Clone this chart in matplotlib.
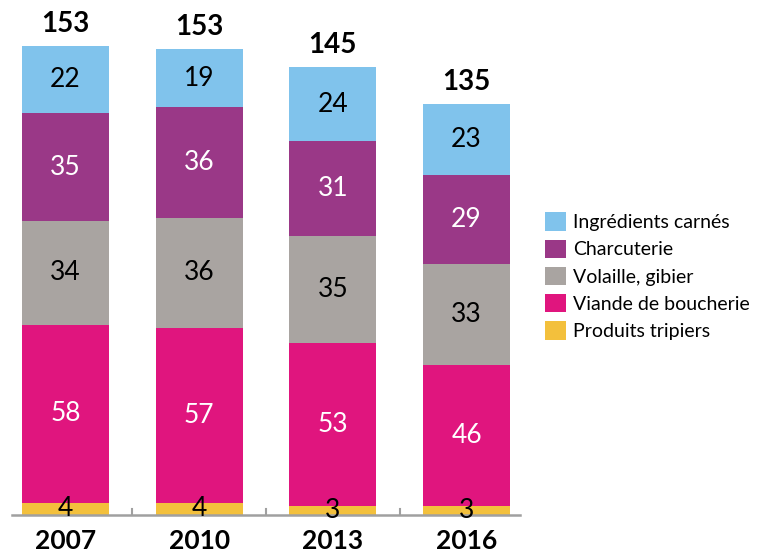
import numpy as np
import matplotlib.pyplot as plt
from matplotlib.patches import Patch

years = ['2007', '2010', '2013', '2016']
totals = [153, 153, 145, 135]

# stacked from bottom to top
categories = ['Produits tripiers', 'Viande de boucherie', 'Volaille, gibier',
              'Charcuterie', 'Ingrédients carnés']
produits_tripiers = [4, 4, 3, 3]
viande_boucherie = [58, 57, 53, 46]
volaille_gibier = [34, 36, 35, 33]
charcuterie = [35, 36, 31, 29]
ingredients_carnes = [22, 19, 24, 23]
series = [produits_tripiers, viande_boucherie, volaille_gibier, charcuterie, ingredients_carnes]
colors = ['#F3C03C', '#E0157E', '#A9A4A1', '#9A3887', '#80C3EC']
text_colors = ['black', 'white', 'black', 'white', 'black']

plt.rcParams['font.family'] = ['Lato', 'DejaVu Sans']

fig = plt.figure(figsize=(7.6, 5.56), dpi=100)
ax = fig.add_axes([12 / 760, 41 / 556, 508 / 760, 515 / 556])

x = np.arange(len(years))
bottom = np.zeros(len(years))
for vals, col, tc in zip(series, colors, text_colors):
    vals = np.array(vals, dtype=float)
    ax.bar(x, vals, width=0.65, bottom=bottom, color=col, linewidth=0)
    for xi, b, v in zip(x, bottom, vals):
        ax.text(xi, b + v / 2, f'{int(v)}', ha='center', va='center',
                fontsize=19, color=tc)
    bottom += vals

for xi, top, t in zip(x, bottom, totals):
    ax.text(xi, top + 3, str(t), ha='center', va='bottom', fontsize=20,
            fontweight='bold', color='black')

ax.set_xlim(-0.40, 3.40)
ax.set_ylim(0, 168)
ax.set_yticks([])
ax.set_xticks(x)
ax.set_xticklabels(years, fontsize=19, fontweight='bold')
ax.tick_params(axis='x', length=0, pad=10)
for tx in [0.5, 1.5, 2.5]:
    ax.plot([tx, tx], [0, 2], color='#A0A0A0', lw=1.5, clip_on=False)
for s in ['top', 'right', 'left']:
    ax.spines[s].set_visible(False)
ax.spines['bottom'].set_color('#A0A0A0')
ax.spines['bottom'].set_linewidth(1.8)

handles = [Patch(facecolor=c, edgecolor='none', label=l)
           for c, l in zip(colors[::-1], categories[::-1])]
fig.legend(handles=handles, loc='upper left', bbox_to_anchor=(545 / 760, 0.618),
           frameon=False, fontsize=14, handlelength=1.1, handleheight=1.1,
           labelspacing=0.42, handletextpad=0.35, borderpad=0, borderaxespad=0)

fig.savefig('out.png', dpi=100)
